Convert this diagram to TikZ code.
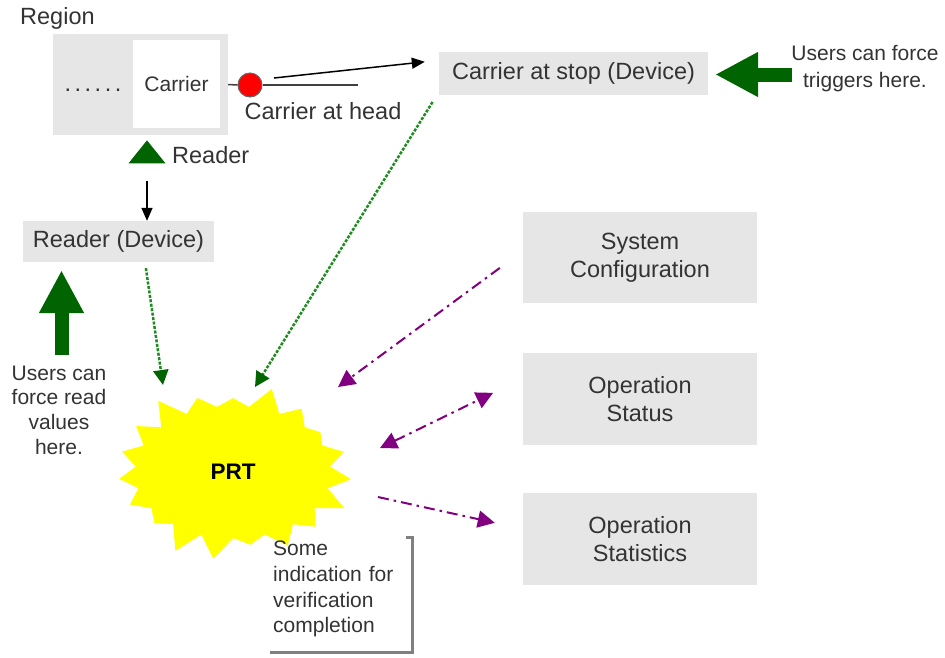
\documentclass[tikz,border=0pt]{standalone}
\usepackage{fontspec}
\setmainfont{Liberation Sans}
\usepackage{xcolor}
\usepackage{tikz}
\usetikzlibrary{arrows.meta,positioning,shapes.geometric,shapes.symbols}
\definecolor{BoxGray}{HTML}{E6E6E6}
\definecolor{InkGray}{HTML}{333333}
\definecolor{ForceGreen}{HTML}{006400}
\definecolor{DotGreen}{HTML}{1E8C1E}
\definecolor{CtrlPurple}{HTML}{800080}
\definecolor{BurstYellow}{HTML}{FFFF00}

\begin{document}
\begin{tikzpicture}[
  x=1pt,y=-1pt,
  lbl/.style={font=\fontsize{23.5}{28}\selectfont,text=InkGray,inner sep=0pt},
  note/.style={font=\fontsize{21}{25.7}\selectfont,text=InkGray,align=center,inner sep=0pt},
  device/.style={lbl,fill=BoxGray,align=center},
  link/.style={-{Triangle[length=13pt,width=11pt]},line width=1.5pt,draw=black},
  feed/.style={-{Triangle[length=15pt,width=15pt,color=ForceGreen]},line width=2.5pt,draw=DotGreen,dash pattern=on 3pt off 1.5pt},
  ctrl/.style={-{Triangle[length=17pt,width=17pt]},line width=2pt,draw=CtrlPurple,dash pattern=on 11pt off 5pt on 2.5pt off 5pt},
  ctrlboth/.style={ctrl,{Triangle[length=17pt,width=17pt]}-{Triangle[length=17pt,width=17pt]}},
  force/.style={-{Triangle[length=43pt,width=42pt]},line width=14pt,draw=ForceGreen},
  bracket/.style={line width=3pt,draw=gray}
]
\useasboundingbox (0,0) rectangle (945,657);
\node[lbl,anchor=west] (regtitle) at (20,18) {Region};
\node[fill=BoxGray,minimum width=175pt,minimum height=101pt,inner sep=0pt] (reg) at (140.5,84.5) {};
\node[fill=white,minimum width=87pt,minimum height=88pt,inner sep=0pt,text=InkGray,font=\fontsize{21}{25}\selectfont] (car) at (176.5,84) {Carrier};
\node[lbl] (queue) at (93,90) {.\hspace{3.5pt}.\hspace{3.5pt}.\hspace{3.5pt}.\hspace{3.5pt}.\hspace{3.5pt}.};
\node[circle,fill=red,draw=black!60,line width=1pt,minimum size=24pt,inner sep=0pt] (head) at (250,85) {};
\node[lbl] (headtxt) at (323,111) {Carrier at head};
\node[device,minimum width=269pt,minimum height=43pt] (stop) at (573.5,73.5) {Carrier at stop (Device)};
\node[note,font=\fontsize{21}{27}\selectfont] (trignote) at (865,69) {Users can force\\triggers here.};
\node[device,minimum width=191pt,minimum height=41pt] (rdr) at (118.5,241.5) {Reader (Device)};
\node[isosceles triangle,isosceles triangle stretches,shape border rotate=90,fill=ForceGreen,minimum width=37pt,minimum height=23pt,inner sep=0pt] (rdmark) at (147,154.5) {};
\node[lbl,anchor=west] (rdmarktxt) at (172,155) {Reader};
\node[note,font=\fontsize{21}{24.6}\selectfont] (readnote) at (59,410) {Users can\\force read\\values\\here.};
\node[shape=starburst,starburst points=19,starburst point height=25pt,random starburst=3,fill=BurstYellow,minimum width=245pt,minimum height=182pt,inner sep=0pt,font=\bfseries\fontsize{22.5}{26}\selectfont] (prt) at (233,472) {PRT};
\node[device,minimum width=234pt,minimum height=91pt] (sc) at (640,257.5) {System\\Configuration};
\node[device,minimum width=234pt,minimum height=92pt] (st) at (640,399) {Operation\\Status};
\node[device,minimum width=234pt,minimum height=92pt] (sx) at (640,539) {Operation\\Statistics};
\node[note,align=left,anchor=north west,text width=125pt] (verinote) at (273,541) {Some\\indication for\\verification\\completion};
\coordinate (trigfoot) at (792,74.5);
\coordinate (readfoot) at (61.5,355);
\coordinate (prtA) at (163,385);
\coordinate (prtB) at (255,387);
\coordinate (prtC) at (338,387);
\coordinate (prtD) at (380,448);
\coordinate (prtE) at (378,497);
\draw[line width=1.5pt,draw=black!75] (reg.east) -- (head.west);
\draw[line width=1.5pt,draw=black!75] (head.east) -- ++(95,0);
\draw[link] ([xshift=11.5pt,yshift=7pt]head.east) -- ([xshift=-14pt,yshift=-10pt]stop.north west);
\draw[link,shorten <=17.5pt] (rdmark) -- (rdmark |- rdr.north);
\draw[force,shorten >=7pt] (trigfoot) -- (trigfoot -| stop.east);
\draw[force,shorten >=8pt] (readfoot) -- (readfoot |- rdr.south);
\draw[feed,shorten <=6pt] ([xshift=26.5pt]rdr.south) -- (prtA);
\draw[feed,shorten <=8pt] ([xshift=-2pt]stop.south west) -- (prtB);
\draw[ctrl,shorten <=28.5pt] ([yshift=6.5pt]sc.west) -- (prtC);
\draw[ctrlboth,shorten >=33pt] (prtD) -- ([yshift=20.6pt]st.west);
\draw[ctrl,shorten >=28.7pt] (prtE) -- ([yshift=10pt]sx.west);
\draw[bracket] ([xshift=8pt,yshift=4pt]verinote.north east) -- ++(6,0) -- ++(0,115) -- ++(-142,0);
\end{tikzpicture}
\end{document}
